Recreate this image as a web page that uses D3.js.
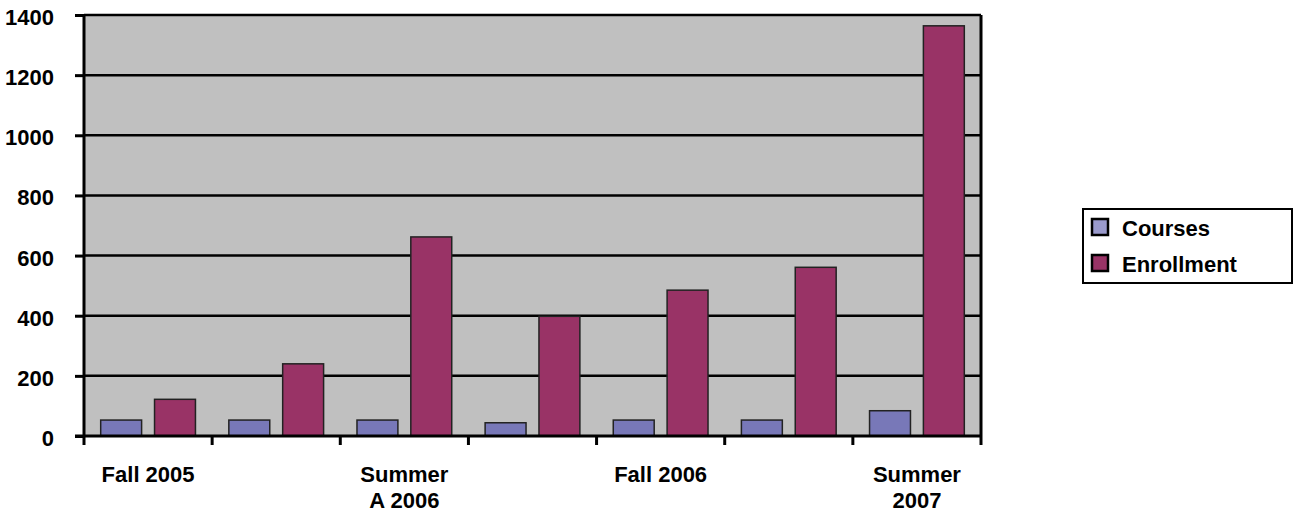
<!DOCTYPE html>
<html>
<head>
<meta charset="utf-8">
<script src="https://cdn.jsdelivr.net/npm/d3@7"></script>
<style>
  body { margin: 0; background: #fff; }
  svg text { font-family: Arial, "Liberation Sans", sans-serif; font-weight: bold; fill: #000; }
</style>
</head>
<body>
<div id="chart"></div>
<script>
// data
var categories = ["Fall 2005", "Spring 2006", "Summer A 2006", "Summer B 2006", "Fall 2006", "Spring 2007", "Summer 2007"];
// only every other label is shown on the axis
var tickLabels = [["Fall 2005"], [], ["Summer", "A 2006"], [], ["Fall 2006"], [], ["Summer", "2007"]];
var seriesNames = ["Courses", "Enrollment"];
var courses = [53, 53, 53, 44, 53, 53, 84];
var enrollment = [122, 240, 662, 398, 485, 561, 1364];
var yTicks = [0, 200, 400, 600, 800, 1000, 1200, 1400];

var colors = { "Courses": "#7878b8", "Enrollment": "#993366" };
var legendColors = { "Courses": "#9a9acc", "Enrollment": "#993366" };

var width = 1294, height = 512;
var plot = { left: 84, right: 981, top: 15, bottom: 436 };

var svg = d3.select("#chart").append("svg")
    .attr("width", width)
    .attr("height", height);

// scales
var x0 = d3.scaleBand()
    .domain(categories)
    .range([plot.left, plot.right])
    .padding(0);
var x1 = d3.scaleBand()
    .domain(seriesNames)
    .range([0, x0.bandwidth()])
    .paddingInner(0.24)
    .paddingOuter(0.31);
var y = d3.scaleLinear()
    .domain([0, 1400])
    .range([plot.bottom, plot.top]);

// plot background
svg.append("rect")
    .attr("x", plot.left)
    .attr("y", plot.top)
    .attr("width", plot.right - plot.left)
    .attr("height", plot.bottom - plot.top)
    .attr("fill", "#c0c0c0");

// gridlines
svg.append("g").selectAll("line")
    .data(yTicks.filter(function(d) { return d > 0; }))
  .enter().append("line")
    .attr("x1", plot.left)
    .attr("x2", plot.right)
    .attr("y1", function(d) { return y(d); })
    .attr("y2", function(d) { return y(d); })
    .attr("stroke", "#000")
    .attr("stroke-width", 2.5);

// right border of plot
svg.append("line")
    .attr("x1", plot.right).attr("x2", plot.right)
    .attr("y1", plot.top).attr("y2", plot.bottom)
    .attr("stroke", "#000")
    .attr("stroke-width", 3);

// bars
var rows = categories.map(function(c, i) {
  return { cat: c, values: [
    { key: "Courses", value: courses[i] },
    { key: "Enrollment", value: enrollment[i] }
  ]};
});

svg.append("g").selectAll("g")
    .data(rows)
  .enter().append("g")
    .attr("transform", function(d) { return "translate(" + x0(d.cat) + ",0)"; })
  .selectAll("rect")
    .data(function(d) { return d.values; })
  .enter().append("rect")
    .attr("x", function(d) { return x1(d.key); })
    .attr("width", x1.bandwidth())
    .attr("y", function(d) { return y(d.value); })
    .attr("height", function(d) { return y(0) - y(d.value); })
    .attr("fill", function(d) { return colors[d.key]; })
    .attr("stroke", "#222")
    .attr("stroke-width", 1.5);

// y axis
var yAxis = svg.append("g")
    .attr("transform", "translate(" + plot.left + ",0)")
    .call(d3.axisLeft(y).tickValues(yTicks).tickFormat(d3.format("d")).tickSize(9).tickPadding(21));
yAxis.select(".domain").remove();
yAxis.selectAll(".tick line").attr("stroke", "#000").attr("stroke-width", 3);
yAxis.selectAll(".tick text")
    .attr("dy", "0.43em")
    .style("font-size", "22px")
    .style("font-family", "Arial, 'Liberation Sans', sans-serif")
    .style("font-weight", "bold");

// left axis line (runs down to the first category tick)
svg.append("line")
    .attr("x1", plot.left).attr("x2", plot.left)
    .attr("y1", plot.top).attr("y2", plot.bottom + 9)
    .attr("stroke", "#000")
    .attr("stroke-width", 3);

// x axis line
svg.append("line")
    .attr("x1", plot.left - 9).attr("x2", plot.right)
    .attr("y1", plot.bottom).attr("y2", plot.bottom)
    .attr("stroke", "#000")
    .attr("stroke-width", 3);

// category boundary ticks
var bounds = categories.map(function(c) { return x0(c) + x0.bandwidth(); });
svg.append("g").selectAll("line")
    .data(bounds)
  .enter().append("line")
    .attr("x1", function(d) { return d; })
    .attr("x2", function(d) { return d; })
    .attr("y1", plot.bottom)
    .attr("y2", plot.bottom + 9)
    .attr("stroke", "#000")
    .attr("stroke-width", 3);

// category labels
svg.append("g").selectAll("text")
    .data(categories)
  .enter().append("text")
    .attr("x", function(d) { return x0(d) + x0.bandwidth() / 2; })
    .attr("y", 482)
    .attr("text-anchor", "middle")
    .style("font-size", "22px")
  .selectAll("tspan")
    .data(function(d, i) { return tickLabels[i]; })
  .enter().append("tspan")
    .attr("x", function() { return d3.select(this.parentNode).attr("x"); })
    .attr("dy", function(d, i) { return i === 0 ? 0 : 26; })
    .text(function(d) { return d; });

// legend
var legend = svg.append("g");
legend.append("rect")
    .attr("x", 1083)
    .attr("y", 209)
    .attr("width", 209)
    .attr("height", 74)
    .attr("fill", "#fff")
    .attr("stroke", "#000")
    .attr("stroke-width", 2);

var items = legend.selectAll("g.item")
    .data(seriesNames)
  .enter().append("g")
    .attr("class", "item")
    .attr("transform", function(d, i) { return "translate(1092," + (228 + i * 36) + ")"; });
items.append("rect")
    .attr("x", 0)
    .attr("y", -9)
    .attr("width", 16)
    .attr("height", 16)
    .attr("fill", function(d) { return legendColors[d]; })
    .attr("stroke", "#000")
    .attr("stroke-width", 2.5);
items.append("text")
    .attr("x", 30)
    .attr("y", 0)
    .attr("dy", "0.36em")
    .style("font-size", "22px")
    .text(function(d) { return d; });
</script>
</body>
</html>
